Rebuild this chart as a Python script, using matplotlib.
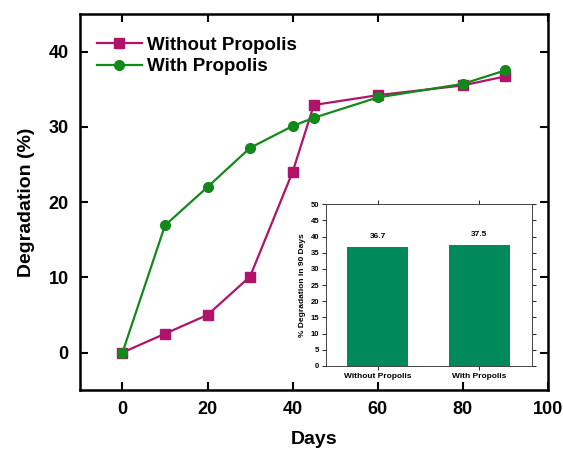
import matplotlib
matplotlib.use("Agg")
import matplotlib.pyplot as plt
from matplotlib.ticker import MultipleLocator

plt.rcParams['font.family'] = ['Liberation Sans', 'DejaVu Sans']

days = [0, 10, 20, 30, 40, 45, 60, 80, 90]
without_propolis = [0, 2.5, 5.0, 10.1, 24.0, 32.9, 34.2, 35.5, 36.7]
with_propolis = [0, 16.9, 22.0, 27.2, 30.1, 31.2, 33.9, 35.7, 37.5]

bar_categories = ['Without Propolis', 'With Propolis']
bar_values = [36.7, 37.5]
bar_labels = ['36.7', '37.5']

magenta = '#B0146A'
green = '#12891A'
bar_color = '#008A5C'

fig = plt.figure(figsize=(5.63, 4.50), dpi=100)
ax = fig.add_axes([0.142, 0.133, 0.831, 0.836])

ax.plot(days, without_propolis, color=magenta, marker='s', markersize=6.5,
        linewidth=1.6, label='Without Propolis', zorder=3)
ax.plot(days, with_propolis, color=green, marker='o', markersize=7,
        linewidth=1.6, label='With Propolis', zorder=3)

ax.set_xlim(-10, 100)
ax.set_ylim(-5, 45)
ax.xaxis.set_major_locator(MultipleLocator(20))
ax.yaxis.set_major_locator(MultipleLocator(10))
ax.tick_params(direction='in', length=6, width=1.5, top=True, right=True,
               labelsize=13, pad=8)
for lbl in ax.get_xticklabels() + ax.get_yticklabels():
    lbl.set_fontweight('bold')
for s in ax.spines.values():
    s.set_linewidth(1.8)

ax.set_xlabel('Days', fontsize=14, fontweight='bold', labelpad=9)
ax.set_ylabel('Degradation (%)', fontsize=14, fontweight='bold', labelpad=10)

leg = ax.legend(loc='upper left', bbox_to_anchor=(0.0, 0.985), frameon=False,
                prop={'size': 13.5, 'weight': 'bold'}, handlelength=2.4,
                handletextpad=0.3, labelspacing=0.25)

# Inset
axi = fig.add_axes([0.579, 0.187, 0.366, 0.359])
xpos = list(range(len(bar_categories)))
axi.bar(xpos, bar_values, width=0.6, color=bar_color, zorder=2)
for x, v, t in zip(xpos, bar_values, bar_labels):
    axi.text(x, v + 2.2, t, ha='center', va='bottom', fontsize=6, fontweight='bold')
axi.set_xlim(-0.51, 1.52)
axi.set_ylim(0, 50)
axi.set_xticks(xpos)
axi.set_xticklabels(bar_categories, fontsize=6, fontweight='bold')
axi.yaxis.set_major_locator(MultipleLocator(5))
axi.tick_params(axis='y', labelsize=5.5, length=3, width=0.6, direction='out', pad=2)
axi.tick_params(axis='x', length=3, width=0.6, direction='out', pad=2)
axi.tick_params(axis='y', which='both', right=True)
axi.tick_params(axis='x', top=True)
for lbl in axi.get_yticklabels():
    lbl.set_fontweight('bold')
axi.set_ylabel('% Degradation in 90 Days', fontsize=6, fontweight='bold', labelpad=3)
for s in axi.spines.values():
    s.set_linewidth(0.7)
    s.set_color('#444444')

fig.savefig('out.png', dpi=100)
